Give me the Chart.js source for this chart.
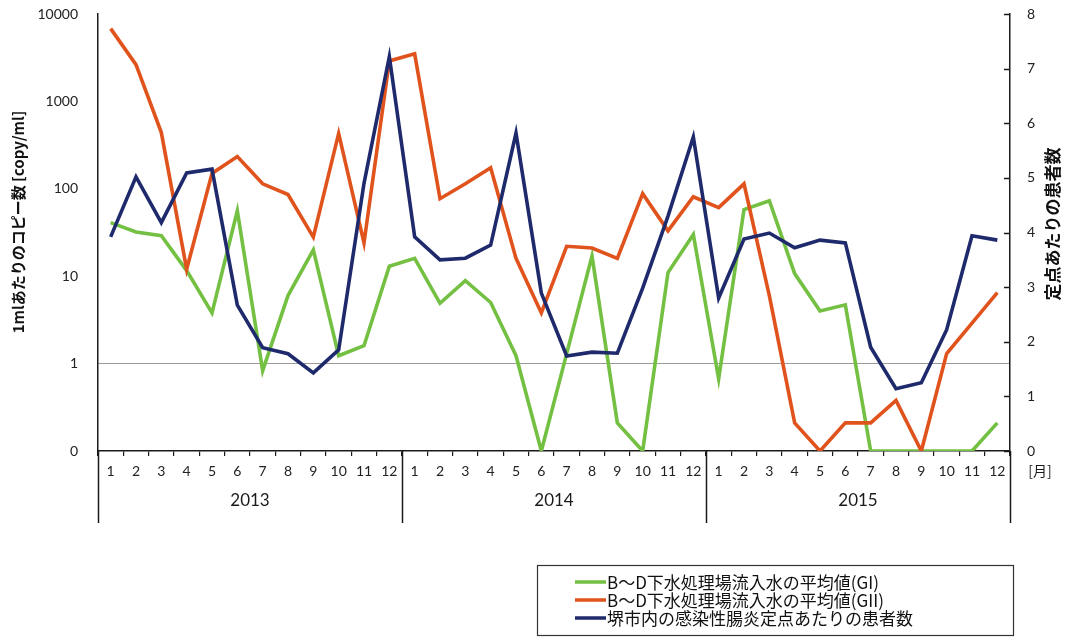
<!DOCTYPE html>
<html lang="ja">
<head>
<meta charset="utf-8">
<title>ノロウイルス遺伝子量と感染性胃腸炎患者数</title>
<script src="https://cdn.jsdelivr.net/npm/chart.js@4.4.1/dist/chart.umd.min.js"></script>
<style>
  html, body { margin: 0; padding: 0; background: #ffffff; }
  #wrap { width: 1071px; height: 638px; position: relative; }
</style>
</head>
<body>
<div id="wrap"><canvas id="chart"></canvas></div>
<script>
// ---- data ----
const years = ['2013', '2014', '2015'];
const monthLabels = ['1','2','3','4','5','6','7','8','9','10','11','12'];

// copies per ml, inflow average at plants B-D (GI)
const giValues = [
  41, 32, 29, 11.6, 3.8, 56, 0.83, 6.0, 20, 1.23, 1.6, 13,
  16, 4.9, 8.9, 5.0, 1.23, 0, 1.3, 17, 0.21, 0, 11, 30,
  0.67, 58, 73, 10.7, 4.0, 4.7, 0, 0, 0, 0, 0, 0.21
];
// copies per ml, inflow average at plants B-D (GII)
const giiValues = [
  6800, 2630, 440, 12, 150, 234, 114, 86, 28, 430, 24, 2900,
  3500, 77, 114, 174, 16, 3.8, 22, 21, 16, 88, 33, 81,
  61, 114, 6.0, 0.21, 0, 0.21, 0.21, 0.38, 0, 1.3, 2.9, 6.5
];
// patients per sentinel site in Sakai city
const patientValues = [
  3.92, 5.02, 4.18, 5.09, 5.16, 2.67, 1.89, 1.78, 1.43, 1.85, 4.9, 7.22,
  3.92, 3.5, 3.53, 3.77, 5.82, 2.89, 1.74, 1.81, 1.79, 2.98, 4.3, 5.75,
  2.8, 3.88, 3.99, 3.72, 3.86, 3.81, 1.9, 1.14, 1.25, 2.22, 3.94, 3.86
];

const logTicks = [0.1, 1, 10, 100, 1000, 10000];   // bottom tick is shown as "0"
const rightTicks = [0, 1, 2, 3, 4, 5, 6, 7, 8];
const seriesNames = [
  'B～D下水処理場流入水の平均値(GI)',
  'B～D下水処理場流入水の平均値(GII)',
  '堺市内の感染性腸炎定点あたりの患者数'
];
const leftTitle = '1mlあたりのコピー数 [copy/ml]';
const rightTitle = '定点あたりの患者数';
const monthUnit = '[月]';

// ---- derived ----
const LOG_FLOOR = logTicks[0];
const categories = years.flatMap(y => monthLabels.map(m => y + '-' + m));
const toLog = arr => arr.map(v => (v === 0 ? LOG_FLOOR : v));

const GREEN = '#74c043';
const ORANGE = '#e0531c';
const NAVY = '#1f2a6c';
const CJK = '"Noto Sans CJK JP", "Noto Sans", sans-serif';
const NUM = 'Lato, "Open Sans", sans-serif';

const noScalePadding = s => { s.paddingTop = 0; s.paddingBottom = 0; s.paddingLeft = 0; s.paddingRight = 0; };

// year separators, year captions, month unit, axis titles, inner right ticks, legend box
const decorations = {
  id: 'decorations',
  afterDraw(chart) {
    const { ctx, chartArea, scales } = chart;
    const x = scales.x;
    const half = (x.getPixelForValue(1) - x.getPixelForValue(0)) / 2;
    ctx.save();

    // year dividers
    ctx.strokeStyle = '#1a1a1a';
    ctx.lineWidth = 1.5;
    for (let k = 0; k <= years.length; k++) {
      const idx = k * monthLabels.length;
      const px = idx < categories.length ? x.getPixelForValue(idx) - half : x.getPixelForValue(categories.length - 1) + half;
      ctx.beginPath();
      ctx.moveTo(Math.round(px) + 0.5, chartArea.bottom);
      ctx.lineTo(Math.round(px) + 0.5, chartArea.bottom + 72);
      ctx.stroke();
    }

    // year captions
    ctx.fillStyle = '#1a1a1a';
    ctx.font = '17px ' + NUM;
    ctx.textAlign = 'center';
    ctx.textBaseline = 'middle';
    years.forEach((y, k) => {
      const a = x.getPixelForValue(k * 12) - half;
      const b = x.getPixelForValue(k * 12 + 11) + half;
      ctx.fillText(y, (a + b) / 2, chartArea.bottom + 50);
    });

    // month unit
    ctx.font = '14px ' + CJK;
    ctx.fillText(monthUnit, chartArea.right + 30, chartArea.bottom + 20);

    // inward ticks on the right axis
    const yr = scales.yRight;
    ctx.lineWidth = 1.5;
    yr.ticks.forEach(t => {
      const py = Math.round(yr.getPixelForValue(t.value)) + 0.5;
      ctx.beginPath();
      ctx.moveTo(chartArea.right - 6, py);
      ctx.lineTo(chartArea.right, py);
      ctx.stroke();
    });

    // axis titles
    ctx.fillStyle = '#111';
    ctx.font = 'bold 15px ' + CJK;
    ctx.save();
    ctx.translate(18, 222);
    ctx.rotate(-Math.PI / 2);
    ctx.fillText(leftTitle, 0, 0);
    ctx.restore();
    ctx.font = 'bold 17px ' + CJK;
    ctx.save();
    ctx.translate(1053, 224);
    ctx.rotate(-Math.PI / 2);
    ctx.fillText(rightTitle, 0, 0);
    ctx.restore();

    // legend
    const bx = 537, by = 565, bw = 476, bh = 70;
    ctx.strokeStyle = '#333';
    ctx.lineWidth = 1.2;
    ctx.strokeRect(bx + 0.5, by + 0.5, bw, bh);
    ctx.font = '17px ' + CJK;
    ctx.textAlign = 'left';
    chart.data.datasets.forEach((ds, i) => {
      const ry = by + 17 + i * 18;
      ctx.strokeStyle = ds.borderColor;
      ctx.lineWidth = 3.5;
      ctx.beginPath();
      ctx.moveTo(575, ry);
      ctx.lineTo(606, ry);
      ctx.stroke();
      ctx.fillStyle = '#111';
      ctx.fillText(ds.label, 607, ry + 1);
    });

    ctx.restore();
  }
};

new Chart(document.getElementById('chart'), {
  type: 'line',
  data: {
    labels: categories,
    datasets: [
      { label: seriesNames[0], data: toLog(giValues), yAxisID: 'yLog', borderColor: GREEN, order: 3 },
      { label: seriesNames[1], data: toLog(giiValues), yAxisID: 'yLog', borderColor: ORANGE, order: 2 },
      { label: seriesNames[2], data: patientValues, yAxisID: 'yRight', borderColor: NAVY, order: 1 }
    ]
  },
  options: {
    responsive: true,
    maintainAspectRatio: false,
    animation: false,
    layout: { padding: { top: 14, left: 0, right: 0, bottom: 0 } },
    elements: {
      line: { borderWidth: 3.6, tension: 0, fill: false, borderCapStyle: 'butt' },
      point: { radius: 0, hoverRadius: 0 }
    },
    plugins: { legend: { display: false }, tooltip: { enabled: false } },
    scales: {
      x: {
        type: 'category',
        offset: true,
        afterFit(s) { s.height = 187; noScalePadding(s); },
        grid: { offset: true, drawOnChartArea: false, drawTicks: true, tickLength: 5, color: '#1a1a1a', lineWidth: 1.2 },
        border: { display: true, color: '#1a1a1a', width: 1.5 },
        ticks: {
          autoSkip: false, maxRotation: 0, padding: 7,
          color: '#222', font: { family: NUM, size: 14 },
          callback: (v, i) => monthLabels[i % monthLabels.length]
        }
      },
      yLog: {
        type: 'logarithmic',
        position: 'left',
        min: logTicks[0],
        max: logTicks[logTicks.length - 1],
        afterFit(s) { s.width = 98; noScalePadding(s); },
        afterBuildTicks(s) { s.ticks = logTicks.map(v => ({ value: v })); },
        grid: {
          drawTicks: false,
          lineWidth: 1,
          color: c => (c.tick && c.tick.value === 1 ? '#9a9a9a' : 'rgba(0,0,0,0)')
        },
        border: { display: true, color: '#1a1a1a', width: 1.5 },
        ticks: {
          padding: 20, color: '#222', font: { family: NUM, size: 14 },
          callback: v => (v === LOG_FLOOR ? '0' : String(v))
        }
      },
      yRight: {
        type: 'linear',
        position: 'right',
        min: rightTicks[0],
        max: rightTicks[rightTicks.length - 1],
        afterFit(s) { s.width = 61; noScalePadding(s); },
        afterBuildTicks(s) { s.ticks = rightTicks.map(v => ({ value: v })); },
        grid: { drawOnChartArea: false, drawTicks: false },
        border: { display: true, color: '#1a1a1a', width: 1.5 },
        ticks: { padding: 17, color: '#222', font: { family: NUM, size: 14 } }
      }
    }
  },
  plugins: [decorations]
});
</script>
</body>
</html>
